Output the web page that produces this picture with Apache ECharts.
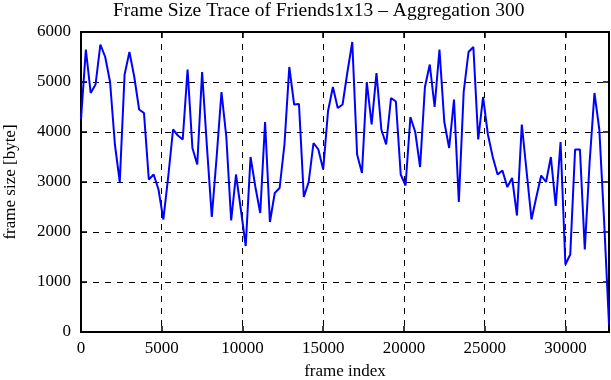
<!DOCTYPE html>
<html>
<head>
<meta charset="utf-8">
<script src="https://cdn.jsdelivr.net/npm/echarts@6/dist/echarts.min.js"></script>
<style>
  html, body { margin: 0; padding: 0; background: #fff; }
  #main { width: 611px; height: 380px; }
</style>
</head>
<body>
<div id="main"></div>
<script>
// aggregated frame sizes, one value per 300 frames
var step = 300;
var frameSize = [
    4250, 5650, 4780, 4950, 5750, 5500, 5000, 3750, 3000, 5150,
    5600, 5100, 4450, 4380, 3050, 3150, 2850, 2250, 3100, 4050,
    3930, 3850, 5250, 3680, 3350, 5200, 3700, 2300, 3500, 4800,
    3900, 2230, 3150, 2450, 1720, 3500, 2900, 2380, 4200, 2200,
    2780, 2880, 3750, 5300, 4550, 4560, 2700, 3000, 3780, 3650,
    3250, 4420, 4900, 4480, 4550, 5200, 5800, 3550, 3180, 5000,
    4150, 5180, 4050, 3750, 4680, 4610, 3150, 2930, 4300, 4000,
    3300, 4900, 5350, 4500, 5650, 4200, 3680, 4650, 2600, 4800,
    5600, 5700, 3850, 4700, 3950, 3500, 3150, 3230, 2900, 3080,
    2330, 4150, 3200, 2250, 2700, 3130, 3000, 3500, 2520, 3800,
    1350, 1550, 3650, 3650, 1650, 3400, 4780, 4050, 2200, 150
];
var xTicks = [0, 5000, 10000, 15000, 20000, 25000, 30000];
var yTicks = [0, 1000, 2000, 3000, 4000, 5000, 6000];

var points = frameSize.map(function (v, i) { return [i * step, v]; });
var xMax = (frameSize.length - 1) * step;

var font = 'Liberation Serif';
var chart = echarts.init(document.getElementById('main'));

var frameAxis = {
    axisLine: { show: true, onZero: false, lineStyle: { color: '#000', width: 2 } },
    axisTick: { show: true, inside: true, length: 6, lineStyle: { color: '#000', width: 1.5 } }
};

var option = {
    animation: false,
    backgroundColor: '#fff',
    title: {
        text: 'Frame Size Trace of Friends1x13 \u2013 Aggregation 300',
        left: 113,
        top: 1,
        padding: 0,
        textStyle: { fontFamily: font, fontWeight: 'normal', fontSize: 19.5, color: '#000' }
    },
    grid: { left: 81, right: 2, top: 32, bottom: 48, containLabel: false, outerBoundsMode: 'none' },
    xAxis: [
        Object.assign({
            type: 'value',
            min: 0,
            max: xMax,
            interval: 5000,
            name: 'frame index',
            nameLocation: 'middle',
            nameGap: 31,
            nameTextStyle: { fontFamily: font, fontSize: 17, color: '#000' },
            axisLabel: {
                fontFamily: font, fontSize: 17, color: '#000', margin: 8,
                showMaxLabel: false,
                formatter: function (v) { return xTicks.indexOf(v) >= 0 ? String(v) : ''; }
            },
            splitLine: { show: true, lineStyle: { color: '#000', type: [6, 6], width: 1 } }
        }, frameAxis),
        Object.assign({
            type: 'value',
            position: 'top',
            min: 0,
            max: xMax,
            interval: 5000,
            axisLabel: { show: false },
            splitLine: { show: false }
        }, frameAxis)
    ],
    yAxis: [
        Object.assign({
            type: 'value',
            min: 0,
            max: 6000,
            interval: 1000,
            name: 'frame size [byte]',
            nameLocation: 'middle',
            nameGap: 62,
            nameTextStyle: { fontFamily: font, fontSize: 17, color: '#000' },
            axisLabel: {
                fontFamily: font, fontSize: 17, color: '#000', margin: 10,
                formatter: function (v) { return yTicks.indexOf(v) >= 0 ? String(v) : ''; }
            },
            splitLine: { show: true, lineStyle: { color: '#000', type: [6, 6], width: 1 } }
        }, frameAxis),
        Object.assign({
            type: 'value',
            position: 'right',
            min: 0,
            max: 6000,
            interval: 1000,
            axisLabel: { show: false },
            splitLine: { show: false }
        }, frameAxis)
    ],
    series: [{
        type: 'line',
        data: points,
        showSymbol: false,
        symbol: 'none',
        lineStyle: { color: '#0000ff', width: 2 },
        itemStyle: { color: '#0000ff' },
        clip: true
    }]
};

chart.setOption(option);
</script>
</body>
</html>
